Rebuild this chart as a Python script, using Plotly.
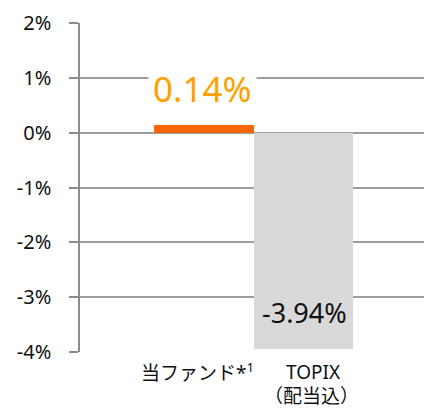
import plotly.graph_objects as go

categories = ["当ファンド*<sup>1</sup>", "TOPIX<br>（配当込）"]
values = [0.14, -3.94]
value_labels = ["0.14%", "-3.94%"]
tick_vals = [-4, -3, -2, -1, 0, 1, 2]
tick_text = ["-4%", "-3%", "-2%", "-1%", "0%", "1%", "2%"]

bar_colors = ["#FF6600", "#D9D9D9"]
xpos = list(range(len(categories)))

FONT = "Noto Sans, Noto Sans CJK JP, sans-serif"

fig = go.Figure()
fig.add_trace(go.Bar(x=xpos, y=values, width=1.0, marker=dict(color=bar_colors, line=dict(width=0)),
                     hoverinfo="skip"))

# value labels
fig.add_annotation(x=xpos[0], y=values[0], text=value_labels[0], showarrow=False,
                   yanchor="middle", yshift=36, xshift=-1,
                   font=dict(family=FONT, size=35, color="#FFA000"),
                   bgcolor="white", borderpad=4)
fig.add_annotation(x=xpos[1], y=values[1], text=value_labels[1], showarrow=False,
                   yanchor="middle", yshift=36, xshift=1,
                   font=dict(family=FONT, size=27, color="#111111"))

# category labels, one annotation per line
shifts = [-6, 10]
line_shifts = [-20, -44]
for i, c in enumerate(categories):
    for j, line in enumerate(c.split("<br>")):
        fig.add_annotation(x=xpos[i], y=-4, text=line, showarrow=False, yanchor="middle",
                           yshift=line_shifts[j], xshift=shifts[i] - (2 if j else 0),
                           font=dict(family=FONT, size=19, color="#111111"))

# page body has an 8px default margin; size the figure to fit the window
fig.update_layout(
    width=424, height=401,
    margin=dict(l=72, r=5, t=15, b=57),
    paper_bgcolor="white", plot_bgcolor="white",
    showlegend=False,
    bargap=0,
)
fig.update_xaxes(range=[-1.246, 2.241], showgrid=False, zeroline=False, showline=False,
                 showticklabels=False, ticks="", fixedrange=True)
fig.update_yaxes(range=[-4, 2], tickvals=tick_vals, ticktext=tick_text,
                 showgrid=True, gridcolor="#9E9E9E", gridwidth=1.5,
                 zeroline=False, showline=True, linecolor="#8C8C8C", linewidth=1.5,
                 ticks="outside", ticklen=9, tickcolor="#8C8C8C", tickwidth=1.5,
                 ticklabelstandoff=14, automargin=False,
                 tickfont=dict(family=FONT, size=20, color="#111111"), fixedrange=True)

fig.write_html("out.html")
